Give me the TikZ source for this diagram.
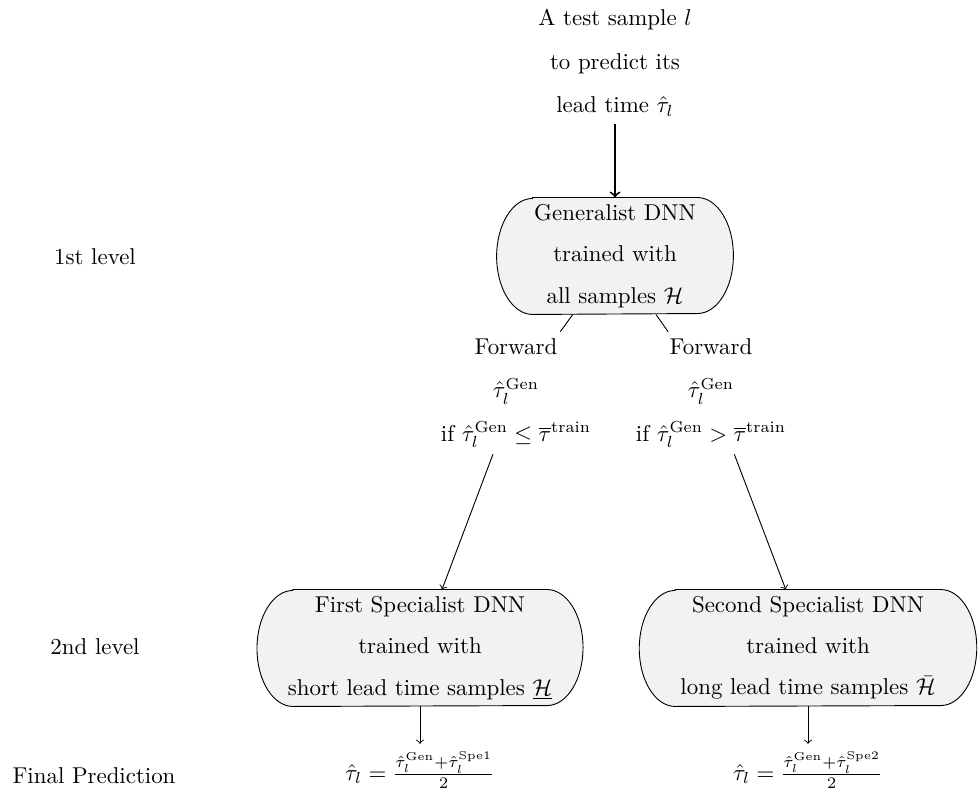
\documentclass[tikz,border=0pt]{standalone}
\usepackage{amsmath,amssymb}
\usetikzlibrary{backgrounds}
\begin{document}
\begin{tikzpicture}[x=0.4367pt,y=-0.4367pt,
  txt/.style={align=center, inner sep=3.3pt},
  dnn/.style={align=center, minimum height=50.66pt, inner sep=2pt},
  outline/.style={draw, fill=gray!10},
  lbl/.style={align=center},
  arr/.style={->},
]
\useasboundingbox (0,0) rectangle (978,795);

\node[txt] (test) at (615,63) {A test sample $l$\\[7pt] to predict its\\[7pt] lead time $\hat{\tau}_l$};
\node[dnn, minimum width=103pt] (gen) at (615,256) {Generalist DNN\\[6pt] trained with\\[6pt] all samples $\mathcal{H}$};
\node[txt, inner sep=2.6pt] (fl) at (516,393) {Forward\\[7pt] $\hat{\tau}_l^{\text{Gen}}$\\[7pt] if $\hat{\tau}_l^{\text{Gen}} \leq \overline{\tau}^{\text{train}}$};
\node[txt, inner sep=2.6pt] (fr) at (711,393) {Forward\\[7pt] $\hat{\tau}_l^{\text{Gen}}$\\[7pt] if $\hat{\tau}_l^{\text{Gen}} > \overline{\tau}^{\text{train}}$};
\node[dnn, minimum width=142pt] (s1) at (420,648) {First Specialist DNN\\[6pt] trained with\\[6pt] short lead time samples $\underline{\mathcal{H}}$};
\node[dnn, minimum width=147pt] (s2) at (808,648) {Second Specialist DNN\\[6pt] trained with\\[6pt] long lead time samples $\bar{\mathcal{H}}$};
\node[txt] (p1) at (420,770) {$\hat{\tau}_l = \frac{\hat{\tau}_l^{\text{Gen}}+\hat{\tau}_l^{\text{Spe1}}}{2}$};
\node[txt] (p2) at (808,770) {$\hat{\tau}_l = \frac{\hat{\tau}_l^{\text{Gen}}+\hat{\tau}_l^{\text{Spe2}}}{2}$};

\node[lbl] (l1) at (95,257) {1st level};
\node[lbl] (l2) at (95,647) {2nd level};
\node[lbl] (l3) at (94,776) {Final Prediction};

\begin{scope}[on background layer]
\foreach \n in {gen,s1,s2}
  \draw[outline] ([xshift=15.7pt]\n.north west) -- ([xshift=-15.7pt]\n.north east)
    arc[start angle=90, end angle=-90, x radius=15.7pt, y radius=25.33pt]
    -- ([xshift=15.7pt]\n.south west)
    arc[start angle=270, end angle=90, x radius=15.7pt, y radius=25.33pt] -- cycle;
\end{scope}

\draw[arr, thick] (test) -- (gen);
\draw (gen) -- (fl);
\draw (gen) -- (fr);
\draw[arr] (fl) -- (s1);
\draw[arr] (fr) -- (s2);
\draw[arr] (s1) -- (p1);
\draw[arr] (s2) -- (p2);
\end{tikzpicture}
\end{document}
